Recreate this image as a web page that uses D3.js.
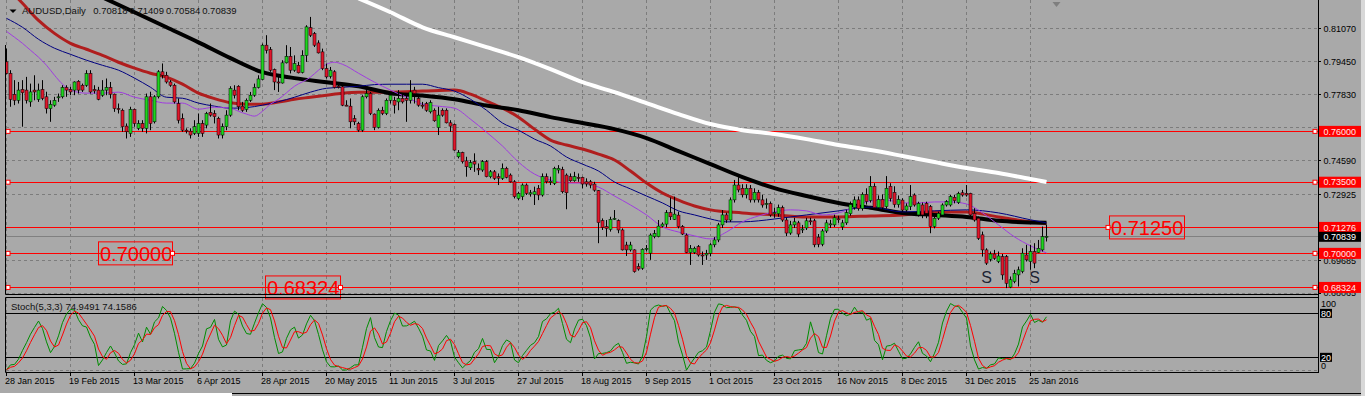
<!DOCTYPE html>
<html><head><meta charset="utf-8">
<script src="https://cdn.jsdelivr.net/npm/d3@7"></script>
<style>html,body{margin:0;padding:0;background:#a9a9a9;overflow:hidden}svg{display:block}</style>
</head><body><svg id="c" width="1365" height="396"></svg>
<script>
// ---------- DATA (AUDUSD daily, 28 Jan 2015 .. 29 Jan 2016) ----------
const opens=[.7942,.7885,.7782,.7753,.7806,.7803,.7745,.7803,.7757,.7806,
.7770,.7712,.7729,.7767,.7770,.7816,.7806,.7803,.7846,.7827,
.7827,.7885,.7806,.7803,.7778,.7803,.7816,.7783,.7712,.7704,
.7626,.7590,.7708,.7615,.7639,.7615,.7770,.7647,.7770,.7893,
.7876,.7843,.7827,.7737,.7664,.7606,.7601,.7590,.7590,.7639,
.7631,.7693,.7688,.7664,.7582,.7623,.7680,.7803,.7822,.7724,
.7708,.7753,.7778,.7816,.7855,.8024,.8002,.7904,.7843,.7838,
.7937,.7969,.7901,.7925,.7890,.7974,.8110,.8081,.8035,.7991,
.7909,.7871,.7893,.7822,.7819,.7729,.7724,.7663,.7639,.7606,
.7770,.7786,.7685,.7620,.7704,.7688,.7753,.7753,.7745,.7762,
.7762,.7753,.7803,.7762,.7729,.7737,.7696,.7704,.7619,.7704,
.7704,.7642,.7634,.7475,.7496,.7455,.7421,.7451,.7418,.7410,
.7451,.7377,.7401,.7377,.7369,.7418,.7385,.7352,.7270,.7279,
.7336,.7292,.7290,.7320,.7287,.7377,.7352,.7344,.7410,.7413,
.7385,.7377,.7357,.7374,.7374,.7352,.7352,.7341,.7308,.7161,
.7131,.7118,.7167,.7161,.7115,.7041,.7017,.7017,.6936,.6927,
.7020,.7001,.7082,.7082,.7134,.7144,.7200,.7167,.7188,.7131,
.7090,.7004,.7004,.7033,.6992,.6992,.7000,.7042,.7066,.7140,
.7189,.7164,.7263,.7336,.7320,.7288,.7320,.7263,.7300,.7263,
.7240,.7245,.7195,.7195,.7225,.7164,.7100,.7140,.7150,.7115,
.7125,.7160,.7160,.7080,.7045,.7110,.7140,.7140,.7170,.7130,
.7150,.7195,.7225,.7263,.7220,.7290,.7260,.7330,.7225,.7265,
.7230,.7330,.7300,.7240,.7262,.7213,.7230,.7287,.7189,.7238,
.7246,.7230,.7132,.7173,.7189,.7238,.7238,.7276,.7250,.7298,
.7295,.7295,.7197,.7173,.7091,.7017,.6971,.6997,.6960,.6984,
.6984,.6834,.6861,.6894,.6911,.6992,.6960,.7009,.7004,.7017,
.70818];
const highs=[.8007,.7901,.7852,.7843,.7852,.7868,.7835,.7876,.7835,.7852,
.7795,.7753,.7770,.7786,.7827,.7827,.7819,.7846,.7852,.7835,
.7901,.7901,.7827,.7819,.7852,.7860,.7843,.7786,.7737,.7712,
.7639,.7721,.7712,.7655,.7655,.7786,.7795,.7778,.7901,.7934,
.7893,.7852,.7835,.7762,.7688,.7615,.7615,.7655,.7688,.7655,
.7696,.7737,.7704,.7672,.7639,.7704,.7822,.7827,.7827,.7745,
.7762,.7794,.7835,.7876,.8032,.8073,.8015,.7909,.7868,.7950,
.8024,.8015,.7974,.7942,.7999,.8122,.8163,.8089,.8048,.8007,
.7934,.7917,.7901,.7835,.7827,.7753,.7762,.7680,.7647,.7778,
.7811,.7794,.7688,.7713,.7721,.7762,.7786,.7770,.7803,.7786,
.7778,.7852,.7819,.7778,.7745,.7745,.7753,.7713,.7721,.7713,
.7713,.7655,.7639,.7508,.7500,.7475,.7459,.7492,.7442,.7459,
.7459,.7410,.7410,.7393,.7442,.7426,.7393,.7360,.7303,.7344,
.7344,.7312,.7328,.7336,.7393,.7393,.7377,.7426,.7434,.7426,
.7393,.7393,.7401,.7393,.7377,.7369,.7361,.7352,.7311,.7172,
.7164,.7180,.7213,.7167,.7123,.7057,.7057,.7020,.6951,.7025,
.7041,.7098,.7115,.7164,.7152,.7213,.7275,.7279,.7205,.7139,
.7098,.7041,.7033,.7041,.7009,.7017,.7050,.7080,.7150,.7213,
.7200,.7275,.7361,.7375,.7340,.7340,.7336,.7320,.7312,.7288,
.7270,.7255,.7225,.7240,.7235,.7175,.7160,.7175,.7160,.7140,
.7175,.7175,.7170,.7095,.7120,.7165,.7165,.7190,.7185,.7165,
.7215,.7255,.7280,.7280,.7300,.7320,.7380,.7345,.7285,.7290,
.7380,.7345,.7330,.7285,.7271,.7246,.7336,.7295,.7254,.7250,
.7254,.7238,.7181,.7205,.7246,.7262,.7287,.7287,.7303,.7312,
.7336,.7298,.7222,.7181,.7107,.7025,.7009,.7017,.7009,.6997,
.6992,.6886,.6919,.6935,.7025,.7042,.7042,.7050,.7066,.7132,
.71409];
const lows=[.7881,.7721,.7729,.7737,.7623,.7737,.7721,.7753,.7745,.7753,
.7688,.7647,.7721,.7745,.7762,.7770,.7778,.7778,.7786,.7794,
.7819,.7786,.7786,.7753,.7770,.7778,.7762,.7696,.7688,.7598,
.7565,.7573,.7623,.7606,.7598,.7590,.7606,.7639,.7762,.7860,
.7835,.7819,.7737,.7639,.7598,.7590,.7565,.7582,.7573,.7573,
.7615,.7672,.7639,.7565,.7565,.7606,.7672,.7762,.7704,.7696,
.7696,.7745,.7770,.7811,.7852,.7983,.7893,.7803,.7794,.7835,
.7934,.7885,.7893,.7885,.7885,.7942,.8064,.8015,.7983,.7901,
.7860,.7860,.7811,.7811,.7724,.7724,.7615,.7631,.7598,.7598,
.7762,.7680,.7606,.7614,.7680,.7680,.7737,.7688,.7704,.7737,
.7647,.7737,.7737,.7721,.7712,.7696,.7688,.7647,.7582,.7672,
.7639,.7598,.7505,.7467,.7442,.7377,.7410,.7401,.7385,.7401,
.7374,.7369,.7361,.7336,.7361,.7369,.7348,.7270,.7262,.7262,
.7287,.7279,.7238,.7262,.7279,.7344,.7336,.7336,.7393,.7295,
.7217,.7352,.7352,.7352,.7320,.7328,.7320,.7303,.7050,.7115,
.7082,.7107,.7164,.7099,.7014,.6987,.7009,.6905,.6915,.6919,
.7009,.6968,.7074,.7079,.7128,.7128,.7164,.7164,.7123,.7090,
.7001,.6943,.6997,.6984,.6943,.6968,.6985,.7030,.7055,.7125,
.7150,.7155,.7250,.7300,.7275,.7270,.7250,.7250,.7250,.7225,
.7220,.7180,.7175,.7180,.7155,.7085,.7091,.7125,.7080,.7100,
.7115,.7140,.7030,.7030,.7035,.7100,.7125,.7130,.7150,.7115,
.7140,.7185,.7215,.7210,.7210,.7240,.7250,.7215,.7215,.7210,
.7220,.7255,.7225,.7225,.7205,.7205,.7213,.7230,.7181,.7173,
.7173,.7099,.7123,.7164,.7181,.7230,.7230,.7246,.7243,.7279,
.7279,.7181,.7156,.7066,.6984,.6943,.6960,.6968,.6952,.6870,
.6829,.6829,.6853,.6837,.6902,.6960,.6919,.6927,.7001,.7009,
.70584];
const closes=[.7885,.7757,.7753,.7803,.7790,.7753,.7794,.7794,.7803,.7762,
.7712,.7733,.7753,.7770,.7816,.7803,.7794,.7843,.7803,.7803,
.7885,.7794,.7799,.7758,.7803,.7816,.7783,.7712,.7709,.7623,
.7598,.7708,.7639,.7639,.7615,.7770,.7639,.7770,.7893,.7876,
.7843,.7827,.7745,.7655,.7606,.7603,.7582,.7623,.7639,.7590,
.7688,.7680,.7672,.7582,.7623,.7680,.7811,.7778,.7721,.7704,
.7753,.7778,.7816,.7858,.8024,.7999,.7901,.7843,.7838,.7937,
.7969,.7901,.7934,.7888,.7974,.8114,.8073,.8024,.7986,.7909,
.7868,.7901,.7816,.7819,.7729,.7727,.7647,.7647,.7606,.7770,
.7786,.7688,.7620,.7704,.7688,.7753,.7778,.7729,.7762,.7745,
.7753,.7794,.7786,.7729,.7727,.7704,.7741,.7652,.7680,.7680,
.7642,.7626,.7508,.7496,.7451,.7426,.7446,.7439,.7410,.7451,
.7377,.7401,.7369,.7370,.7418,.7374,.7352,.7279,.7295,.7336,
.7295,.7298,.7303,.7287,.7377,.7352,.7355,.7418,.7418,.7303,
.7298,.7357,.7377,.7372,.7341,.7341,.7336,.7311,.7151,.7128,
.7123,.7167,.7172,.7115,.7017,.7017,.7041,.6910,.6923,.7020,
.7025,.7090,.7098,.7134,.7144,.7200,.7180,.7193,.7131,.7095,
.7004,.7025,.7025,.6992,.6990,.7000,.7042,.7066,.7140,.7189,
.7164,.7263,.7336,.7312,.7288,.7320,.7263,.7300,.7263,.7238,
.7245,.7189,.7200,.7225,.7164,.7100,.7140,.7155,.7095,.7120,
.7160,.7155,.7042,.7045,.7110,.7150,.7145,.7175,.7165,.7150,
.7200,.7240,.7263,.7220,.7290,.7255,.7330,.7225,.7265,.7225,
.7320,.7270,.7240,.7265,.7213,.7233,.7279,.7238,.7246,.7189,
.7197,.7132,.7173,.7197,.7238,.7254,.7279,.7259,.7295,.7287,
.7287,.7189,.7164,.7074,.7017,.6952,.6997,.6976,.6987,.6894,
.6853,.6870,.6902,.6919,.7001,.6968,.7009,.6952,.7025,.7082,
.70839];

// moving averages (bar index, price)
const maWhiteIdx=[88,96,104,112,120,128,136,144,152,160,168,176,184,192,200,208,216,224,232,240,248,256,260];
const maWhite=[.8254,.8186,.8112,.8063,.8014,.7965,.7906,.7842,.7793,.7739,.7685,.7636,.7606,.7587,.7562,.7533,.7508,.7479,.7449,.7420,.7395,.7366,.7351];
const maBlackIdx=[24,32,40,48,56,64,72,80,88,96,104,112,120,128,136,144,152,160,168,176,184,192,200,208,216,224,232,240,248,256,260];
const maBlack=[.8259,.8186,.8112,.8038,.7960,.7891,.7862,.7842,.7822,.7788,.7776,.7758,.7727,.7704,.7670,.7641,.7611,.7567,.7503,.7439,.7375,.7321,.7282,.7248,.7224,.7199,.7189,.7179,.7160,.7152,.7150];
const maRedIdx=[0,4,8,12,16,20,24,28,32,36,40,44,48,52,56,60,64,68,72,76,80,84,88,96,104,112,116,120,124,128,132,136,140,144,148,152,156,160,164,168,172,176,184,192,200,208,216,224,232,240,248,256,260];
const maRed=[.8313,.8230,.8146,.8082,.8033,.8004,.7974,.7940,.7911,.7886,.7867,.7832,.7788,.7761,.7741,.7734,.7734,.7744,.7758,.7768,.7778,.7788,.7793,.7793,.7798,.7803,.7783,.7749,.7714,.7670,.7611,.7557,.7533,.7513,.7488,.7459,.7405,.7346,.7297,.7262,.7233,.7214,.7199,.7189,.7179,.7179,.7184,.7189,.7204,.7204,.7179,.7155,.7145];
const maNavyIdx=[0,4,8,12,16,20,24,28,32,36,40,44,48,52,56,60,64,68,72,76,80,84,88,92,96,100,104,108,112,116,120,124,128,132,136,140,144,148,152,156,160,164,168,172,176,180,184,188,192,196,200,208,216,224,232,240,248,256,260];
const maNavy=[.8156,.8112,.8053,.8009,.7979,.7950,.7925,.7901,.7862,.7817,.7768,.7763,.7739,.7724,.7714,.7717,.7729,.7746,.7768,.7793,.7812,.7817,.7822,.7830,.7832,.7832,.7832,.7815,.7798,.7758,.7704,.7641,.7606,.7562,.7528,.7474,.7439,.7405,.7351,.7317,.7282,.7248,.7209,.7189,.7169,.7155,.7155,.7160,.7169,.7179,.7189,.7209,.7228,.7204,.7209,.7214,.7199,.7165,.7150];
const maPurpleIdx=[0,2,4,6,8,10,12,14,16,20,24,28,32,36,40,44,48,52,56,58,60,62,64,66,68,72,76,78,80,82,84,88,92,96,100,104,108,112,116,120,124,128,132,136,140,144,148,152,156,160,164,168,172,176,180,184,188,192,196,200,204,208,212,216,220,224,228,232,236,240,244,248,252,256,260];
const maPurple=[.8092,.8063,.8033,.7999,.7965,.7925,.7876,.7832,.7803,.7788,.7788,.7793,.7768,.7753,.7739,.7739,.7709,.7719,.7714,.7699,.7685,.7675,.7699,.7734,.7758,.7822,.7867,.7901,.7930,.7940,.7930,.7886,.7842,.7803,.7768,.7734,.7724,.7714,.7660,.7596,.7528,.7449,.7390,.7361,.7346,.7346,.7326,.7282,.7238,.7189,.7130,.7105,.7086,.7071,.7105,.7155,.7184,.7204,.7214,.7209,.7189,.7199,.7228,.7258,.7262,.7248,.7248,.7253,.7253,.7243,.7199,.7140,.7081,.7037,.7002];

const dateIdx=[0,16,32,48,64,80,96,112,128,144,160,176,192,208,224,240,256];
const dateLabels=["28 Jan 2015","19 Feb 2015","13 Mar 2015","6 Apr 2015","28 Apr 2015","20 May 2015","11 Jun 2015","3 Jul 2015","27 Jul 2015","18 Aug 2015","9 Sep 2015","1 Oct 2015","23 Oct 2015","16 Nov 2015","8 Dec 2015","31 Dec 2015","25 Jan 2016"];
const priceTicks=[0.81070,0.79450,0.77830,0.76210,0.74590,0.72925,0.71305,0.69685,0.68065];
const priceTickLabels=["0.81070","0.79450","0.77830","","0.74590","0.72925","","0.69685","0.68065"];
const levelPrices=[0.76,0.735,0.71276,0.70,0.68324];
const levelHasMarkers=[true,true,false,true,true];
const levelLabels=["0.76000","0.73500","0.71276","0.70000","0.68324"];
const bidPrice=0.70839, bidLabel="0.70839";
const stochLevels=[80,20];
const stochAxisTicks=[100,80,20,0];
const headerValues=["0.70818","0.71409","0.70584","0.70839"];
const stochHeader="Stoch(5,3,3) 74.9491 74.1586";
const noteLabels=[{t:"0.70000",p:0.70},{t:"0.68324",p:0.68324},{t:"0.71250",p:0.71276}];
const patternMarks=[{t:"S",i:245,p:0.6884},{t:"S",i:257,p:0.6884}];

// ---------- DRAW ----------
const FONT='"Liberation Sans", Arial, sans-serif';
const svg=d3.select('#c');
const W=1365,H=396;
const x=d3.scaleLinear().domain([0,260]).range([6.5,1046.5]);
const y=d3.scaleLinear().domain([0.68065,0.81070]).range([292.7,28.3]);
const ys=d3.scaleLinear().domain([0,100]).range([372,298.7]);
const px=v=>Math.round(v)+0.5;

svg.append('rect').attr('width',W).attr('height',H).attr('fill','#a9a9a9');
const defs=svg.append('defs');
defs.append('clipPath').attr('id','cm').append('rect').attr('x',6).attr('y',0).attr('width',1312).attr('height',294);
defs.append('clipPath').attr('id','cs').append('rect').attr('x',6).attr('y',298).attr('width',1312).attr('height',74);

// grid
const gg=svg.append('g').attr('stroke','#7c7c7c').attr('stroke-dasharray','3,3').attr('stroke-width',1);
dateIdx.forEach(i=>{
  const xx=x(i);
  gg.append('line').attr('x1',xx).attr('x2',xx).attr('y1',0).attr('y2',294);
  gg.append('line').attr('x1',xx).attr('x2',xx).attr('y1',298).attr('y2',372);
});
priceTicks.forEach(p=>{const yy=px(y(p));gg.append('line').attr('x1',6).attr('x2',1318).attr('y1',yy).attr('y2',yy);});
gg.append('line').attr('x1',6).attr('x2',1318).attr('y1',370.5).attr('y2',370.5);

// horizontal level lines
const gl=svg.append('g');
gl.append('line').attr('x1',6).attr('x2',1318).attr('y1',px(y(bidPrice))).attr('y2',px(y(bidPrice))).attr('stroke','#808080');
levelPrices.forEach(p=>{const yy=px(y(p));gl.append('line').attr('x1',6).attr('x2',1318).attr('y1',yy).attr('y2',yy).attr('stroke','#ff0000');});

// moving averages
const mline=d3.line().x(d=>x(d[0])).y(d=>y(d[1])).curve(d3.curveMonotoneX);
const gm=svg.append('g').attr('clip-path','url(#cm)').attr('fill','none').attr('stroke-linejoin','round');
gm.append('path').attr('d',mline(d3.zip(maWhiteIdx,maWhite))).attr('stroke','#ffffff').attr('stroke-width',4);
gm.append('path').attr('d',mline(d3.zip(maRedIdx,maRed))).attr('stroke','#b01e1e').attr('stroke-width',3);
gm.append('path').attr('d',mline(d3.zip(maBlackIdx,maBlack))).attr('stroke','#000000').attr('stroke-width',4);
gm.append('path').attr('d',mline(d3.zip(maNavyIdx,maNavy))).attr('stroke','#000080').attr('stroke-width',1);
gm.append('path').attr('d',mline(d3.zip(maPurpleIdx,maPurple))).attr('stroke','#a03ce0').attr('stroke-width',1);

// candles
const gc=svg.append('g').attr('clip-path','url(#cm)');
closes.forEach((c,i)=>{
  const o=opens[i],h=highs[i],l=lows[i],cx=x(i);
  gc.append('line').attr('x1',cx).attr('x2',cx).attr('y1',y(h)).attr('y2',y(l)).attr('stroke','#000').attr('stroke-width',1);
  const top=y(Math.max(o,c)),bot=y(Math.min(o,c));
  const hgt=Math.max(1,bot-top);
  gc.append('rect').attr('x',cx-1.5).attr('y',top).attr('width',3).attr('height',hgt)
    .attr('fill',c>=o?'#1fd41f':'#e0172c').attr('stroke','#000').attr('stroke-width',0.5);
});

// level end markers
levelPrices.forEach((p,k)=>{
  if(!levelHasMarkers[k])return;
  const yy=y(p);
  [8,1315].forEach(xx=>gl.append('rect').attr('x',xx-2).attr('y',yy-2).attr('width',4).attr('height',4).attr('fill','#fff').attr('stroke','#ff0000').attr('stroke-width',1));
});

// note text boxes
const notePos=[{x0:98,w:74,mark:'r'},{x0:265,w:75,mark:'r'},{x0:1109,w:75,mark:'l'}];
noteLabels.forEach((n,k)=>{
  const yy=y(n.p),pos=notePos[k];
  const g=svg.append('g');
  g.append('rect').attr('x',pos.x0+0.5).attr('y',yy-11.5).attr('width',pos.w).attr('height',23).attr('fill','none').attr('stroke','#ff0000');
  g.append('text').attr('x',pos.x0+2).attr('y',yy).attr('dy','0.36em').attr('font-family',FONT).attr('font-size',20).attr('fill','#ff0000').text(n.t);
  const mx=pos.mark==='r'?pos.x0+pos.w+0.5:pos.x0-1;
  g.append('rect').attr('x',mx-2).attr('y',yy-2).attr('width',4).attr('height',4).attr('fill','#fff').attr('stroke','#ff0000');
});

// S labels
patternMarks.forEach(d=>{
  svg.append('text').attr('x',x(d.i)).attr('y',y(d.p)).attr('text-anchor','middle').attr('dy','0.36em')
    .attr('font-family',FONT).attr('font-size',16).attr('fill','#1d2433').text(d.t);
});

// frames
const gf=svg.append('g').attr('stroke','#000').attr('stroke-width',1);
gf.append('line').attr('x1',1318.5).attr('x2',1318.5).attr('y1',0).attr('y2',373);
gf.append('line').attr('x1',5.5).attr('x2',1318.5).attr('y1',294.5).attr('y2',294.5);
gf.append('line').attr('x1',5.5).attr('x2',1318.5).attr('y1',297.5).attr('y2',297.5);
gf.append('line').attr('x1',5.5).attr('x2',1318.5).attr('y1',372.5).attr('y2',372.5);
gf.append('line').attr('x1',5.5).attr('x2',5.5).attr('y1',45).attr('y2',294.5);
gf.append('line').attr('x1',5.5).attr('x2',5.5).attr('y1',297.5).attr('y2',372.5);

// header
svg.append('path').attr('d','M9.5,9.5L16.5,9.5L13,13Z').attr('fill','#000');
svg.append('text').attr('x',22).attr('y',11).attr('dy','0.35em').attr('font-family',FONT).attr('font-size',9.5).attr('fill','#111').text('AUDUSD,Daily');
headerValues.forEach((v,k)=>svg.append('text').attr('x',93.3+k*36.3).attr('y',11).attr('dy','0.35em').attr('font-family',FONT).attr('font-size',9.5).attr('fill','#111').text(v));
svg.append('path').attr('d','M1052.5,2L1060.5,2L1056.5,7Z').attr('fill','#7f7f7f');

// right price axis
const ga=svg.append('g').attr('font-family',FONT).attr('font-size',9);
priceTicks.forEach((p,k)=>{
  const yy=y(p);
  ga.append('line').attr('x1',1318).attr('x2',1321).attr('y1',px(yy)).attr('y2',px(yy)).attr('stroke','#000');
  if(priceTickLabels[k]) ga.append('text').attr('x',1323.5).attr('y',yy+0.5).attr('dy','0.36em').attr('fill','#000').text(priceTickLabels[k]);
});
levelPrices.forEach((p,k)=>{
  const yy=y(p);
  ga.append('rect').attr('x',1319).attr('y',yy-5.5).attr('width',43).attr('height',11).attr('fill','#ff0000');
  ga.append('text').attr('x',1323.5).attr('y',yy).attr('dy','0.36em').attr('fill','#ffe8e8').text(levelLabels[k]);
});
{const yy=y(bidPrice);
 ga.append('rect').attr('x',1319).attr('y',yy-4.5).attr('width',43).attr('height',10).attr('fill','#000');
 ga.append('text').attr('x',1323.5).attr('y',yy+0.5).attr('dy','0.36em').attr('fill','#ffffff').text(bidLabel);}

// stochastic (5,3,3) derived from the candles
const n=closes.length, num=[], den=[], stMain=[], stSig=[];
for(let i=0;i<n;i++){const a=Math.max(0,i-4);num.push(closes[i]-d3.min(lows.slice(a,i+1)));den.push(d3.max(highs.slice(a,i+1))-d3.min(lows.slice(a,i+1)));}
for(let i=0;i<n;i++){const a=Math.max(0,i-2);const s2=d3.sum(den.slice(a,i+1));stMain.push(s2>0?100*d3.sum(num.slice(a,i+1))/s2:50);}
for(let i=0;i<n;i++){const a=Math.max(0,i-2);stSig.push(d3.mean(stMain.slice(a,i+1)));}
stochLevels.forEach(v=>svg.append('line').attr('x1',6).attr('x2',1318).attr('y1',px(ys(v))).attr('y2',px(ys(v))).attr('stroke','#000'));
const sline=d3.line().x((d,i)=>x(i)).y(d=>ys(d));
const gs=svg.append('g').attr('clip-path','url(#cs)').attr('fill','none');
gs.append('path').attr('d',sline(stMain)).attr('stroke','#008c00').attr('stroke-width',1);
gs.append('path').attr('d',sline(stSig)).attr('stroke','#ff0000').attr('stroke-width',1);
svg.append('text').attr('x',11).attr('y',306.5).attr('dy','0.35em').attr('font-family',FONT).attr('font-size',9.5).attr('fill','#111').text(stochHeader);
stochAxisTicks.forEach(v=>{
  let yy=ys(v); if(v===100) yy=303.7; if(v===0) yy=365.7;
  if(v===80||v===20){ga.append('rect').attr('x',1320).attr('y',yy-4.5).attr('width',12).attr('height',9).attr('fill','#000');}
  ga.append('text').attr('x',1321).attr('y',yy).attr('dy','0.36em').attr('fill',(v===80||v===20)?'#fff':'#000').text(v);
});

// time axis
const gt=svg.append('g').attr('font-family',FONT).attr('font-size',9);
dateIdx.forEach((i,k)=>{
  const xx=x(i);
  gt.append('line').attr('x1',xx).attr('x2',xx).attr('y1',372.5).attr('y2',376).attr('stroke','#000');
  gt.append('text').attr('x',xx-1.5).attr('y',381).attr('dy','0.35em').attr('fill','#000').text(dateLabels[k]);
});

// window edges
svg.append('rect').attr('x',0).attr('y',393).attr('width',232).attr('height',3).attr('fill','#ffffff');
svg.append('line').attr('x1',232).attr('x2',1361).attr('y1',393.5).attr('y2',393.5).attr('stroke','#000');
svg.append('rect').attr('x',1361).attr('y',0).attr('width',4).attr('height',396).attr('fill','#d8d8d8');
</script>
</body></html>
